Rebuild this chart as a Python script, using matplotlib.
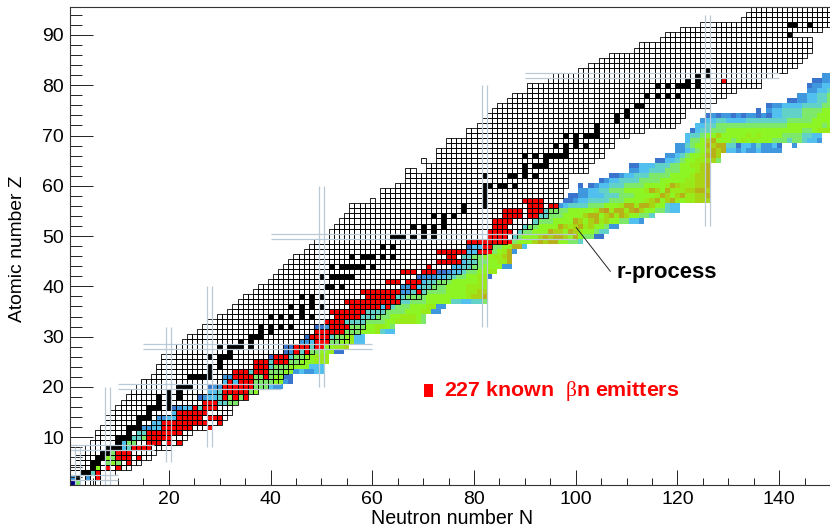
import numpy as np
import matplotlib
matplotlib.use('Agg')
import matplotlib.pyplot as plt
from matplotlib.colors import ListedColormap
from matplotlib.patches import Rectangle
from matplotlib.collections import PatchCollection

plt.rcParams['font.family'] = ['Liberation Sans', 'DejaVu Sans']
plt.rcParams['mathtext.fontset'] = 'custom'
plt.rcParams['mathtext.rm'] = 'Liberation Serif'
plt.rcParams['mathtext.it'] = 'Liberation Serif'

# Known nuclides: first and last neutron number per Z (Z = 1, 2, ... 95)
grid_nmin = [1, 1, 1, 1, 2, 2, 3, 4, 5, 6, 6, 7, 8, 8, 9, 10, 11, 12, 13, 14,
             15, 17, 18, 18, 19, 19, 21, 22, 23, 24, 26, 27, 28, 30, 32, 33, 34, 35, 37, 38,
             40, 41, 42, 43, 44, 45, 47, 48, 49, 50, 52, 53, 54, 55, 56, 56, 62, 62, 62, 65,
             67, 67, 71, 71, 73, 73, 73, 75, 75, 79, 79, 81, 82, 83, 84, 85, 87, 88, 91, 91,
             95, 96, 101, 103, 105, 107, 112, 113, 117, 118, 121, 125, 133, 134, 135]
grid_nmax = [6, 8, 9, 12, 14, 16, 17, 20, 22, 23, 24, 27, 30, 31, 32, 32, 33, 35, 37, 39,
             41, 42, 43, 44, 46, 47, 48, 51, 55, 55, 57, 58, 58, 61, 62, 63, 65, 69, 70, 72,
             74, 75, 77, 80, 80, 80, 82, 83, 86, 88, 89, 91, 92, 94, 96, 96, 96, 97, 97, 98,
             98, 98, 102, 102, 103, 105, 105, 107, 107, 110, 113, 119, 120, 121, 121, 126, 127, 129, 131, 136,
             136, 138, 141, 143, 144, 145, 146, 146, 146, 142, 148, 150, 150, 150, 150]
extra_z = [57, 63, 63, 65]
extra_n = [60, 67, 68, 70]

# Stable isotopes (black)
stable_z = [2, 3, 4, 5, 6, 7, 8, 9, 10, 11, 12, 13, 14, 15, 16, 17, 18, 19, 20, 22, 23, 24, 25, 26, 27, 28,
            29, 30, 31, 32, 34, 35, 36, 37, 38, 40, 42, 44, 46, 48, 50, 51, 52, 53, 54, 55, 56, 57, 58, 59,
            60, 62, 63, 64, 65, 66, 67, 68, 69, 70, 71, 72, 73, 74, 75, 76, 78, 80, 81, 82, 83, 90, 92]
stable_n = [[2], [3, 4], [5], [5, 6], [6, 7], [7, 8], [8, 9, 10], [10], [10, 11, 12], [12], [12, 13, 14], [14],
            [14, 15, 16], [16], [16, 17, 18, 20], [18, 20], [18, 20, 22], [20, 22], [22, 23, 24], [24, 25, 26, 27, 28],
            [28], [28, 30], [30], [28, 30, 31, 32], [32], [30, 32, 33, 34, 36], [34, 36], [36, 37, 38], [38, 40],
            [38, 40, 42, 44], [40, 42, 44, 46, 48], [46], [44, 46, 48, 50], [48], [46, 48, 50], [51, 52, 54],
            [50, 52, 53, 54, 55, 56], [52, 54, 55, 56, 57, 58, 60], [56, 58, 59, 60, 62, 64], [62, 64],
            [64, 65, 66, 68, 70, 72], [70, 72], [68, 70, 72, 74], [74], [72, 74, 76], [78], [78, 82], [82], [82], [82],
            [82, 83, 85, 86, 88], [82, 87, 88, 90, 92], [90], [90, 92, 93, 94], [94], [90, 92, 94, 95, 96, 97, 98], [98],
            [96, 98, 100, 102], [100], [98, 100, 102, 103, 104], [104], [104], [108], [108, 110], [110], [112, 113],
            [114, 116, 118, 120], [116, 118, 120, 121, 122, 124], [122, 124], [124, 126], [126], [142], [142, 143, 146]]

# Measured beta-delayed neutron emitters (red): Z, first N, last N
red_z = [2, 3, 4, 4, 5, 6, 6, 6, 7, 8, 9, 9, 9, 10, 11, 12, 12, 13, 13, 14, 14, 15, 16, 16, 17,
         18, 18, 18, 19, 20, 20, 21, 21, 22, 22, 23, 23, 24, 25, 25, 26, 27, 27, 28, 28, 29, 30, 31, 32, 33, 34, 35,
         31, 32, 32, 33, 34, 35, 36, 36, 37, 38, 39, 39, 40, 41, 41, 43, 43, 44, 45, 46, 47, 47, 48, 49, 50, 51, 52, 53,
         54, 54, 55, 55, 56, 56, 57, 81]
red_a = [6, 6, 8, 10, 12, 10, 12, 14, 10, 13, 16, 20, 22, 16, 16, 19, 28, 19, 30, 22, 28, 22, 25, 27, 27,
         31, 33, 35, 31, 31, 35, 32, 34, 33, 39, 33, 37, 37, 37, 41, 41, 45, 47, 45, 49, 49, 48, 50, 52, 51, 53, 54,
         49, 52, 55, 51, 53, 52, 56, 63, 55, 59, 58, 69, 68, 63, 67, 66, 70, 71, 73, 75, 73, 81, 82, 79, 83, 83, 84, 84,
         86, 91, 86, 91, 91, 95, 90, 129]
red_b = [6, 6, 8, 10, 12, 12, 12, 14, 12, 16, 18, 20, 22, 20, 22, 24, 28, 27, 30, 26, 30, 27, 25, 29, 29,
         31, 33, 35, 35, 34, 36, 32, 36, 36, 39, 35, 39, 39, 39, 43, 43, 45, 47, 47, 50, 51, 51, 54, 54, 54, 54, 54,
         54, 53, 55, 53, 57, 58, 61, 63, 65, 64, 65, 69, 68, 65, 69, 68, 72, 71, 77, 76, 78, 83, 83, 87, 86, 87, 86, 87,
         89, 92, 89, 93, 93, 96, 93, 129]

# r-process abundance levels: row Z, first N, one character per neutron number
r_z = [82, 81, 80, 79, 78, 77, 76, 75, 74, 73, 72, 71, 70, 69, 68, 67, 66, 65, 64, 63, 62, 61, 60, 59, 58, 57, 56, 55,
       54, 53, 52, 51, 50, 49, 48, 47, 46, 45, 44, 43, 42, 41, 40, 39, 38, 37, 36, 35, 34, 33, 32, 31, 30, 29, 28, 27,
       26, 25, 24, 23, 22, 21, 20, 19, 18, 17, 16, 15, 14, 13, 12, 11, 10, 9, 8, 7, 6, 5, 4, 3, 2, 1]
r_start = [149, 147, 146, 146, 144, 142, 138, 136, 126, 125, 124, 123, 122, 122, 120, 120, 118, 116, 111, 111, 107, 105, 101, 101, 99, 98, 97, 94,
           93, 92, 90, 89, 88, 87, 79, 79, 78, 77, 76, 73, 69, 69, 66, 66, 64, 65, 62, 58, 58, 54, 49, 49, 47, 46, 43, 43,
           40, 38, 37, 36, 31, 31, 28, 28, 26, 27, 21, 21, 18, 17, 15, 14, 13, 11, 11, 8, 8, 8, 6, 5, 1, 1]
r_levels = ["11", "0011", "01122", "11223", "1122334", "001122334", "0112222333344", "0.1223333444455",
            "0101101011010223333444555", "12233222233333333444445555", "223344444444444444555555545",
            "0233444555555555555555445666", "233455755555656555544443322", "244578555456565554443443221",
            "113455878833022131120..1", "112345787822121121111", "11234556887", "0022345566774",
            "0022233344556678", "1122333444555678", "00122333444455556778", "0122333344445555566778",
            "0.012233344445555687666778", "11223344455556875866677887", "0011222333444555568757866778",
            "00122333344455556785786566777", "123333444555688688755322", "344445555568968868975544322",
            "33444555578857868755443", "3444555587578675544221", "3445555876786755411", "344555877587655433",
            "345557878875854400", "345557878855443", "022334455882", "2233445681", "3344556678", "22334455668",
            "223344555511", "001223445566", "011122334455660", "22334445555566", "11223344455556666",
            "11333444455556677", "3334444555555556778", "333444555553322334", "2334445556611", "2333344445556611",
            "3334445566654", "33333444455666654", "0011233444556654", "2233344445556322", "011233445622",
            "1122334455622", "0012334455667", "012334455600", "012334455666", "22333444555666", "33334445555222",
            "333444455121122", "11223344445500", "22233344445510", "011122344444211", "2233344445", "0122334445",
            "1223344", "012223", "222333", "11223", "223", "11223",
            "334", "3344", "244", "2344", "345", "544", "454", "5", "3", "1..1", "n4"]
level_codes = "0123456789n"
level_colors = ['#3a74cc', '#3f97de', '#52c0ef', '#62d2c8', '#7de86a', '#8ef524', '#98ea18', '#a8d414',
                '#b8b018', '#c09a20', '#000080']

# Closed shells: magic number and extent of the two guide lines
magic_v = [2, 8, 20, 28, 50, 82, 126]
magic_v_lo = [0.5, 0.5, 5, 8, 20, 32, 52]
magic_v_hi = [8, 20, 32, 40, 60, 80, 94]
magic_h = [2, 8, 20, 28, 50, 82]
magic_h_lo = [0.5, 0.5, 10, 15, 40, 90]
magic_h_hi = [10, 17, 42, 60, 100, 140]

xticks_major = [20, 40, 60, 80, 100, 120, 140]
yticks_major = [10, 20, 30, 40, 50, 60, 70, 80, 90]

fig = plt.figure(figsize=(8.3, 5.3), dpi=100)
ax = fig.add_axes([69.7 / 830, 45 / 530, 760.3 / 830, 477.7 / 530])

edges_n = np.arange(-0.5, 151)
edges_z = np.arange(-0.5, 96)

# r-process path
r_grid = np.full((96, 151), np.nan)
for z, start, row in zip(r_z, r_start, r_levels):
    for i, c in enumerate(row):
        if c != '.':
            r_grid[z, start + i] = level_codes.index(c)
ax.pcolormesh(edges_n, edges_z, np.ma.masked_invalid(r_grid), cmap=ListedColormap(level_colors),
              vmin=-0.5, vmax=10.5, linewidth=0, rasterized=True)

# red cells
red_grid = np.full((96, 151), np.nan)
for z, a, b in zip(red_z, red_a, red_b):
    red_grid[z, a:b + 1] = 1
ax.pcolormesh(edges_n, edges_z, np.ma.masked_invalid(red_grid), cmap=ListedColormap(['#ff0000']), linewidth=0)

# stable cells
stable_grid = np.full((96, 151), np.nan)
for z, ns in zip(stable_z, stable_n):
    stable_grid[z, ns] = 1
ax.pcolormesh(edges_n, edges_z, np.ma.masked_invalid(stable_grid), cmap=ListedColormap(['#000000']), linewidth=0)

# outline of every known nuclide
cells = []
for z, (lo, hi) in enumerate(zip(grid_nmin, grid_nmax), start=1):
    for n in range(lo, hi + 1):
        cells.append(Rectangle((n - 0.5, z - 0.5), 1, 1))
for z, n in zip(extra_z, extra_n):
    cells.append(Rectangle((n - 0.5, z - 0.5), 1, 1))
ax.add_collection(PatchCollection(cells, facecolor='none', edgecolor='black', linewidth=0.6))

# magic number guides
guide = '#b9c9d5'
for m, lo, hi in zip(magic_v, magic_v_lo, magic_v_hi):
    ax.vlines([m - 0.5, m + 0.5], lo, hi, color=guide, linewidth=0.9)
for m, lo, hi in zip(magic_h, magic_h_lo, magic_h_hi):
    ax.hlines([m - 0.5, m + 0.5], lo, hi, color=guide, linewidth=0.9)

ax.set_xlim(0.5, 150)
ax.set_ylim(0.5, 95.5)
ax.set_xticks(xticks_major)
ax.set_xticks(np.arange(5, 150, 5), minor=True)
ax.set_yticks(yticks_major)
ax.set_yticks(np.arange(2, 96, 2), minor=True)
ax.tick_params(axis='x', which='major', direction='in', length=10.8, width=0.7, labelsize=14, pad=4.5, color='#222222')
ax.tick_params(axis='x', which='minor', direction='in', length=5.4, width=0.7, color='#222222')
ax.tick_params(axis='y', which='major', direction='in', length=16.6, width=0.7, labelsize=14, pad=4, color='#222222')
ax.tick_params(axis='y', which='minor', direction='in', length=8.6, width=0.7, color='#222222')
for s in ['top', 'right', 'left', 'bottom']:
    ax.spines[s].set_linewidth(0.8)
    ax.spines[s].set_color('#333333')
ax.spines['right'].set_visible(False)

fig.text(533 / 830, 1 - 519 / 530, 'Neutron number N', ha='right', va='center', fontsize=14.1)
fig.text(17 / 830, 1 - 176 / 530, 'Atomic number Z', ha='center', va='top', rotation=90, fontsize=13.9)

ax.plot([100.1, 106.8], [51.7, 43], color='#222222', linewidth=0.7)
ax.text(108.0, 42.7, 'r-process', fontsize=15.8, fontweight='bold', va='center', ha='left')

ax.add_patch(Rectangle((70.1, 18), 1.8, 2.55, facecolor='#ff0000', edgecolor='none'))
ax.text(74.1, 19.2, r'227 known  $\beta$n emitters', color='#ff0000', fontsize=15.4, fontweight='bold',
        va='center', ha='left')

fig.savefig('out.png', dpi=100)
